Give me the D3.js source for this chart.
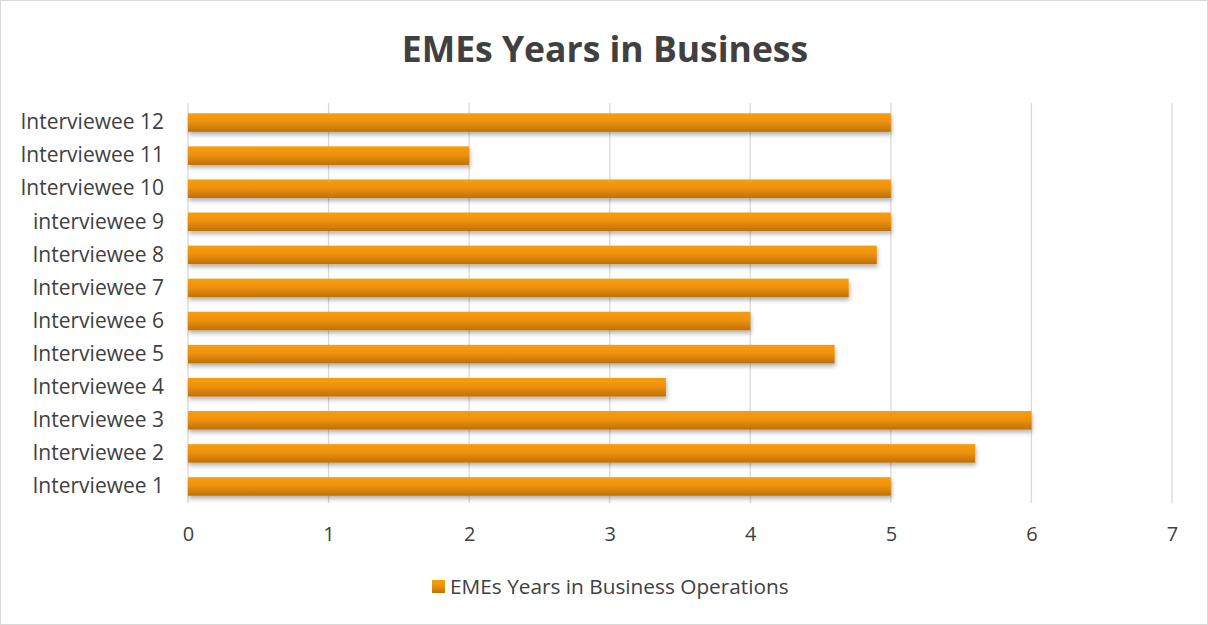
<!DOCTYPE html>
<html lang="en">
<head>
<meta charset="UTF-8">
<title>EMEs Years in Business</title>
<script src="https://d3js.org/d3.v7.min.js"></script>
<style>
  body { margin: 0; background: #fff; font-family: "Open Sans", "Liberation Sans", sans-serif; }
  .tick text { fill: #404040; }
</style>
</head>
<body>
<div id="chart"></div>
<script>
// data
var categories = ["Interviewee 1", "Interviewee 2", "Interviewee 3", "Interviewee 4", "Interviewee 5", "Interviewee 6",
                  "Interviewee 7", "Interviewee 8", "interviewee 9", "Interviewee 10", "Interviewee 11", "Interviewee 12"];
var years = [5, 5.6, 6, 3.4, 4.6, 4, 4.7, 4.9, 5, 5, 2, 5];
var xTicks = [0, 1, 2, 3, 4, 5, 6, 7];
var seriesName = "EMEs Years in Business Operations";

var W = 1208, H = 625;
var margin = { left: 188, right: 36, top: 106, bottom: 122 };

var svg = d3.select("#chart").append("svg").attr("width", W).attr("height", H);

var defs = svg.append("defs");
var grad = defs.append("linearGradient").attr("id", "barGrad").attr("x1", 0).attr("y1", 0).attr("x2", 0).attr("y2", 1);
grad.append("stop").attr("offset", "0%").attr("stop-color", "#F99D0C");
grad.append("stop").attr("offset", "45%").attr("stop-color", "#EE9209");
grad.append("stop").attr("offset", "100%").attr("stop-color", "#BE7106");
var shadow = defs.append("filter").attr("id", "shadow").attr("x", "-5%").attr("y", "-30%").attr("width", "110%").attr("height", "180%");
shadow.append("feDropShadow").attr("dx", 1).attr("dy", 3).attr("stdDeviation", 2).attr("flood-color", "#000").attr("flood-opacity", 0.3);

// outer border
svg.append("rect").attr("x", 0.5).attr("y", 0.5).attr("width", W - 1).attr("height", H - 1)
  .attr("fill", "none").attr("stroke", "#d9d9d9");

var x = d3.scaleLinear().domain([0, 7]).range([margin.left, W - margin.right]);
var y = d3.scaleBand().domain(categories.slice().reverse()).range([margin.top, H - margin.bottom])
  .paddingInner(0.44).paddingOuter(0.22);

// gridlines
svg.append("g").selectAll("line").data(xTicks).join("line")
  .attr("x1", d => x(d)).attr("x2", d => x(d))
  .attr("y1", margin.top - 3).attr("y2", H - margin.bottom)
  .attr("stroke", "#d9d9d9").attr("stroke-width", 1.3);

// bars
svg.append("g").selectAll("rect").data(categories).join("rect")
  .attr("x", x(0))
  .attr("y", d => y(d))
  .attr("width", (d, i) => x(years[i]) - x(0))
  .attr("height", y.bandwidth())
  .attr("fill", "url(#barGrad)")
  .attr("filter", "url(#shadow)");

// y axis labels
var yAxis = svg.append("g").attr("transform", "translate(" + (x(0) - 24) + ",0)")
  .call(d3.axisLeft(y).tickSize(0).tickPadding(0));
yAxis.select(".domain").remove();
yAxis.selectAll("text").attr("font-size", 21).attr("font-family", "Open Sans, sans-serif");

// x axis labels
var xAxis = svg.append("g").attr("transform", "translate(0," + (H - margin.bottom + 24) + ")")
  .call(d3.axisBottom(x).tickValues(xTicks).tickFormat(d3.format("d")).tickSize(0).tickPadding(0));
xAxis.select(".domain").remove();
xAxis.selectAll("text").attr("font-size", 20).attr("font-family", "Open Sans, sans-serif").attr("dy", "0.71em");

// title
svg.append("text").attr("x", W / 2 + 1).attr("y", 62).attr("text-anchor", "middle")
  .attr("font-size", 35.5).attr("font-weight", "bold").attr("fill", "#404040")
  .text("EMEs Years in Business");

// legend
var leg = svg.append("g").attr("transform", "translate(432,580)");
leg.append("rect").attr("width", 13).attr("height", 13).attr("fill", "url(#barGrad)");
leg.append("text").attr("x", 18).attr("y", 6.5).attr("dy", "0.35em")
  .attr("font-size", 20.8).attr("fill", "#404040").text(seriesName);
</script>
</body>
</html>
